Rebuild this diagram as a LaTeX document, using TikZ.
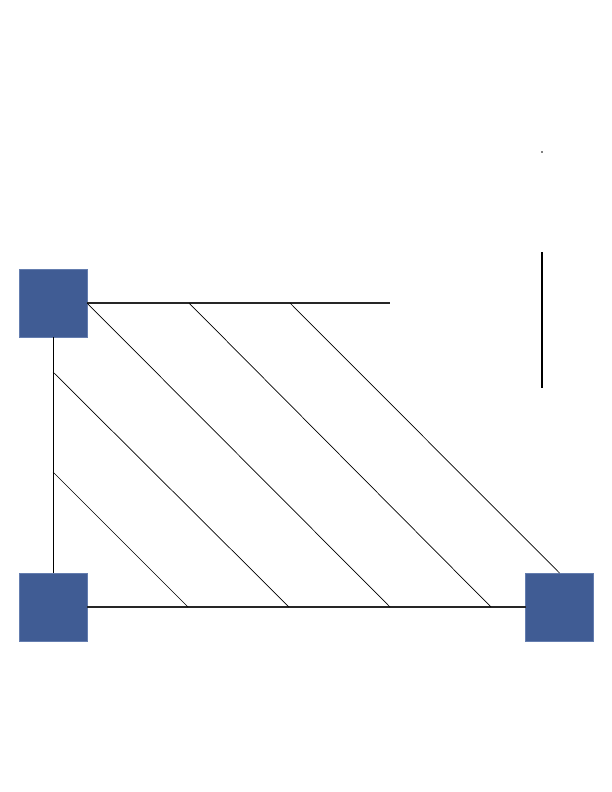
\documentclass[tikz,border=0pt]{standalone}
\begin{document}
\begin{tikzpicture}[x=1bp,y=-1bp,
  sq/.style={draw=blue!30!black!0, fill=sq, draw=sqedge, line width=0.6bp, minimum size=68bp, inner sep=0pt, outer sep=0pt},
  ln/.style={draw=black, line width=0.7bp},
  hl/.style={draw=black!85, line width=1.1bp}]
\definecolor{sq}{RGB}{64,92,148}
\definecolor{sqedge}{RGB}{100,125,175}
\useasboundingbox (0,0) rectangle (612,792);
\node[sq] (tl) at (53,303) {};
\node[sq] (bl) at (53,607) {};
\node[sq] (br) at (559.5,607) {};
\coordinate (t1) at (189,303);
\coordinate (t2) at (290,303);
\coordinate (t3) at (390,303);
\coordinate (l1) at (53,372);
\coordinate (l2) at (53,472);
\coordinate (b1) at (188,607);
\coordinate (b2) at (289,607);
\coordinate (b3) at (390,607);
\coordinate (b4) at (491,607);
\coordinate (vt) at (542,252);
\coordinate (vb) at (542,388);
\coordinate (dot) at (542,152);
\draw[hl] (tl.east) -- (t3);
\draw[hl] (bl.east) -- (br.west);
\draw[ln] (tl.south) -- (bl.north);
\draw[ln] (l2) -- (b1);
\draw[ln] (l1) -- (b2);
\draw[ln] (tl.east) -- (b3);
\draw[ln] (t1) -- (b4);
\draw[ln] (t2) -- (br.north);
\draw[line width=2bp] (vt) -- (vb);
\fill (dot) circle (0.9bp);
\end{tikzpicture}
\end{document}
